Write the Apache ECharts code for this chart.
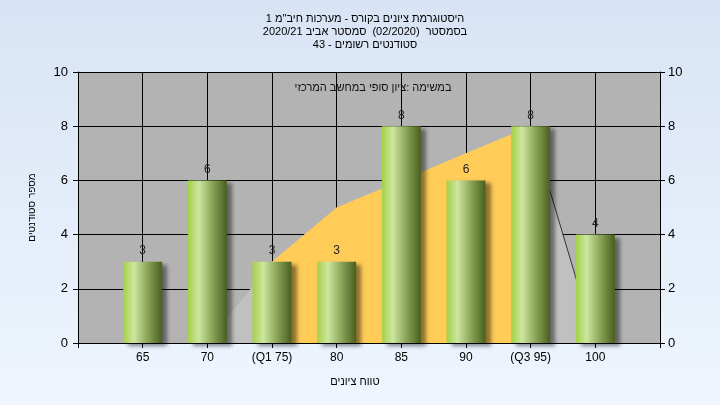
<!DOCTYPE html>
<html>
<head>
<meta charset="utf-8">
<script src="https://cdn.jsdelivr.net/npm/echarts@6/dist/echarts.min.js"></script>
<style>
html,body{margin:0;padding:0;}
#chart{width:720px;height:405px;direction:rtl;background:linear-gradient(to bottom,#d8e4f5 0%,#eef5fd 100%);}
</style>
</head>
<body>
<div id="chart"></div>
<script>
// ---- data ----
const titleLines = ['היסטוגרמת ציונים בקורס - מערכות חיב"מ 1', 'בסמסטר  (02/2020)  סמסטר אביב 2020/21', 'סטודנטים רשומים - 43'];
const seriesName = 'במשימה :ציון סופי במחשב המרכזי';
const xAxisName = 'טווח ציונים';
const yAxisName = 'מספר סטודנטים';
const gradeValues = [65, 70, 75, 80, 85, 90, 95, 100];
const studentCounts = [3, 6, 3, 3, 8, 6, 8, 4];
const tickValues = [60, 65, 70, 75, 80, 85, 90, 95, 100, 105];
const tickLabels = ['', '65', '70', '(Q1 75)', '80', '85', '90', '(Q3 95)', '100', ''];
const curveX = [70, 75, 80, 85, 90, 95, 100];
const curveY = [0, 3, 5, 6, 7, 8, 0];
const iqrX = [75, 80, 85, 90, 95];
const iqrY = [3, 5, 6, 7, 8];
const tailX = [95, 100];
const tailY = [8, 0];

const labelMap = {};
tickValues.forEach((v, i) => { labelMap[v] = tickLabels[i]; });
const pair = (xs, ys) => xs.map((x, i) => [x, ys[i]]);

const FONT = "'Liberation Sans', Arial, sans-serif";
const chart = echarts.init(document.getElementById('chart'), null, {renderer: 'canvas'});
chart.setOption({
  backgroundColor: 'transparent',
  animation: false,
  textStyle: {fontFamily: FONT},
  title: [
    {
      text: titleLines.join('\n'),
      left: 360, top: 7, textAlign: 'center',
      textStyle: {fontSize: 11, fontWeight: 'normal', color: '#000', lineHeight: 13, fontFamily: FONT}
    },
    {
      text: seriesName,
      left: 368, top: 77, textAlign: 'center',
      textStyle: {fontSize: 11, fontWeight: 'normal', color: '#111', fontFamily: FONT}
    },
    {
      text: xAxisName,
      left: 350, top: 371, textAlign: 'center',
      textStyle: {fontSize: 11, fontWeight: 'normal', color: '#000', fontFamily: FONT}
    }
  ],
  grid: {left: 78, right: 60, top: 72, bottom: 62, show: true, backgroundColor: '#b3b3b3', borderWidth: 0},
  xAxis: {
    type: 'value', min: 60, max: 105, interval: 5,
    axisLine: {show: true, lineStyle: {color: '#000', width: 1}},
    axisTick: {show: true, length: 5, lineStyle: {color: '#000'}},
    axisLabel: {color: '#000', fontSize: 12, margin: 9, fontFamily: FONT,
      formatter: v => labelMap[v] !== undefined ? labelMap[v] : ''},
    splitLine: {show: true, lineStyle: {color: '#000', width: 1}}
  },
  yAxis: [
    {
      type: 'value', min: 0, max: 10, interval: 2, position: 'left',
      name: yAxisName, nameLocation: 'middle', nameGap: 41, nameRotate: 90,
      nameTextStyle: {color: '#000', fontSize: 10, fontFamily: FONT},
      axisLine: {show: true, lineStyle: {color: '#000'}},
      axisTick: {show: true, length: 5, lineStyle: {color: '#000'}},
      axisLabel: {color: '#000', fontSize: 13, margin: 10, fontFamily: FONT},
      splitLine: {show: true, lineStyle: {color: '#000', width: 1}}
    },
    {
      type: 'value', min: 0, max: 10, interval: 2, position: 'right',
      axisLine: {show: true, lineStyle: {color: '#000'}},
      axisTick: {show: true, length: 5, lineStyle: {color: '#000'}},
      axisLabel: {color: '#000', fontSize: 13, margin: 8, fontFamily: FONT},
      splitLine: {show: false}
    }
  ],
  series: [
    {
      type: 'line', data: pair(curveX, curveY), showSymbol: false, symbol: 'none',
      lineStyle: {width: 0}, areaStyle: {color: '#c0c0c0', opacity: 1}, z: 1, silent: true
    },
    {
      type: 'line', data: pair(iqrX, iqrY), showSymbol: false, symbol: 'none',
      lineStyle: {width: 0}, areaStyle: {color: '#ffcc58', opacity: 1}, z: 1, silent: true
    },
    {
      type: 'line', data: pair(tailX, tailY), showSymbol: false, symbol: 'none',
      lineStyle: {width: 1, color: '#333'}, z: 1, silent: true
    },
    {
      type: 'bar', name: seriesName, data: pair(gradeValues, studentCounts), barWidth: 39, z: 3,
      itemStyle: {
        color: new echarts.graphic.LinearGradient(0, 0, 1, 0, [
          {offset: 0, color: '#a3d046'},
          {offset: 0.28, color: '#cde6a0'},
          {offset: 0.6, color: '#8fa95c'},
          {offset: 1, color: '#485f1e'}
        ]),
        shadowColor: 'rgba(0,0,0,0.45)', shadowBlur: 4, shadowOffsetX: 5, shadowOffsetY: 3
      },
      label: {show: true, position: 'top', distance: 5, color: '#222', fontSize: 12, fontFamily: FONT}
    }
  ]
});
</script>
</body>
</html>
